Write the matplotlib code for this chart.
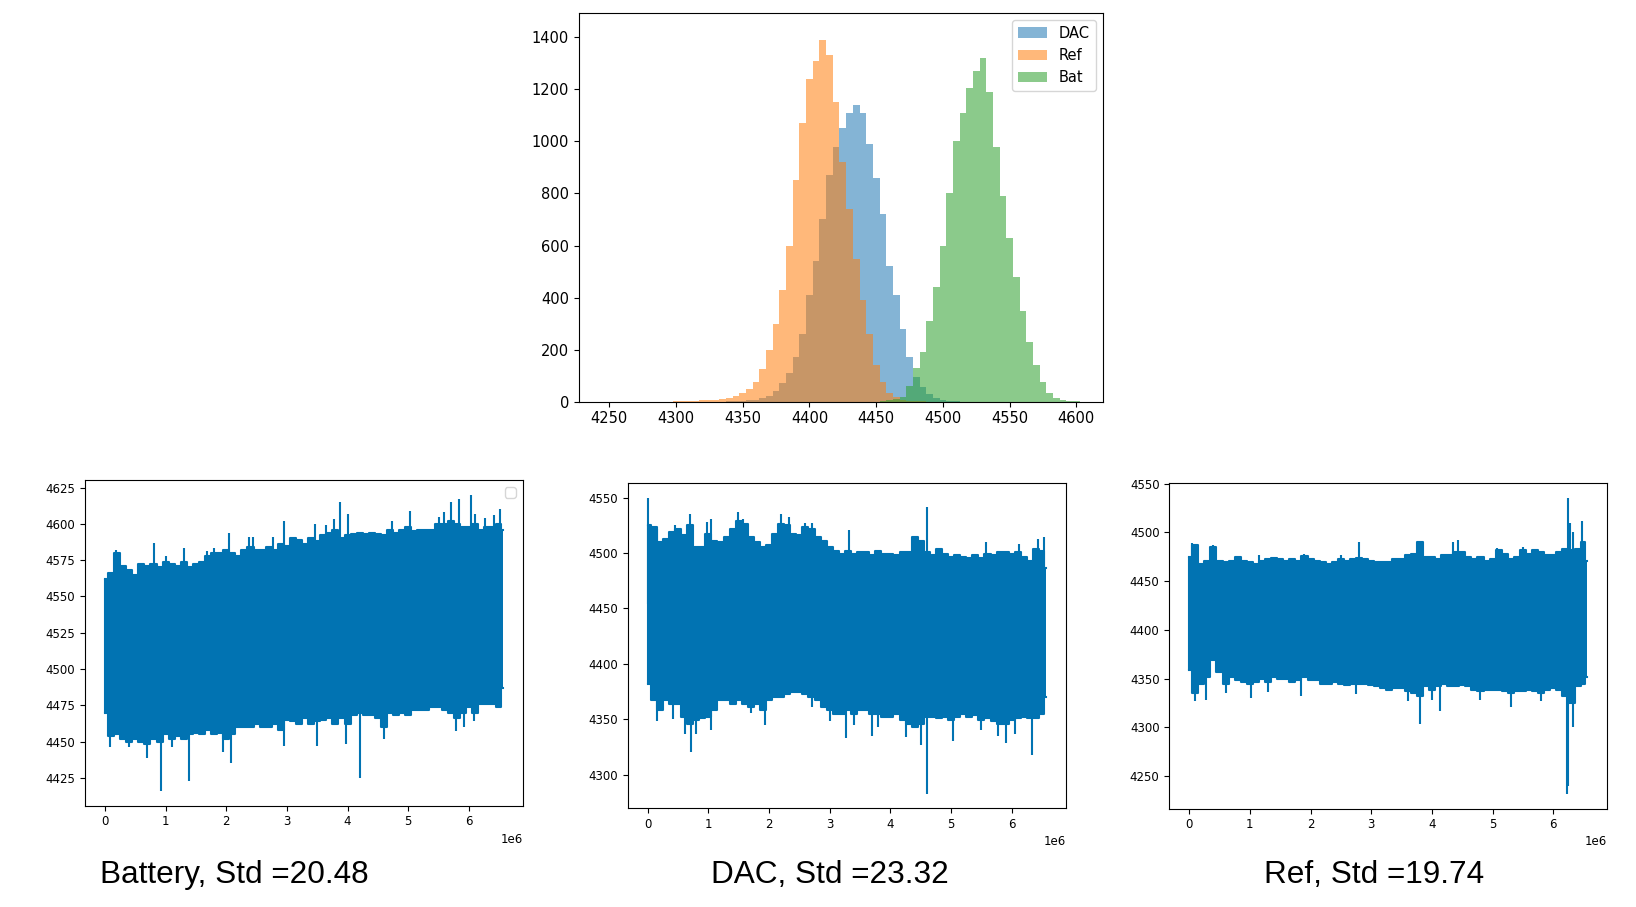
import numpy as np
import matplotlib
matplotlib.use("Agg")
import matplotlib.pyplot as plt

# ---- histogram data (counts per 5-unit bin) ----
dac_first_bin = 4340
dac_counts = [1, 2, 3, 5, 8, 14, 22, 40, 70, 110, 170, 260, 410, 540, 700, 870,
              980, 1050, 1110, 1140, 1110, 990, 860, 720, 520, 410, 280, 170,
              95, 55, 30, 16, 8, 4, 2]
ref_first_bin = 4300
ref_counts = [3, 3, 3, 4, 5, 6, 8, 12, 16, 22, 32, 48, 75, 125, 200, 300, 430,
              600, 850, 1070, 1240, 1310, 1390, 1330, 1150, 920, 740, 550, 390,
              260, 140, 75, 35, 18, 8, 4, 2, 1]
bat_first_bin = 4455
bat_counts = [4, 6, 10, 18, 60, 130, 190, 310, 440, 600, 800, 1000, 1110, 1205,
              1270, 1320, 1190, 980, 790, 630, 480, 350, 230, 140, 75, 35, 15,
              7, 3, 1]
bin_w = 5

# ---- time series: band envelopes sampled every 0.1e6 samples (+ last sample) ----
t_grid = np.append(np.arange(0, 6.55, 0.1), 6.56) * 1e6

bat_upper = [4562, 4566, 4580, 4571, 4568, 4565, 4572, 4571, 4572, 4570,
             4574, 4572, 4571, 4574, 4570, 4572, 4574, 4578, 4580, 4580,
             4582, 4580, 4578, 4582, 4584, 4582, 4582, 4584, 4582, 4586,
             4585, 4590, 4589, 4586, 4590, 4588, 4592, 4594, 4596, 4590,
             4592, 4593, 4594, 4593, 4594, 4593, 4592, 4596, 4594, 4596,
             4598, 4595, 4596, 4596, 4596, 4600, 4600, 4602, 4600, 4598,
             4598, 4600, 4596, 4598, 4598, 4600, 4596]
bat_lower = [4470, 4454, 4455, 4452, 4450, 4452, 4450, 4448, 4452, 4450,
             4455, 4452, 4454, 4452, 4455, 4456, 4455, 4458, 4455, 4456,
             4452, 4455, 4460, 4460, 4460, 4462, 4460, 4460, 4462, 4458,
             4465, 4464, 4462, 4466, 4462, 4464, 4465, 4466, 4462, 4466,
             4462, 4468, 4470, 4468, 4468, 4466, 4460, 4470, 4468, 4470,
             4468, 4472, 4472, 4472, 4474, 4474, 4472, 4470, 4466, 4470,
             4474, 4470, 4476, 4476, 4476, 4474, 4487]
bat_spikes_x = [0.19, 0.81, 1.0, 1.3, 1.68, 1.8, 2.05, 2.37, 2.44, 2.77, 2.96,
                3.47, 3.65, 3.77, 3.87, 4.0, 4.73, 5.03, 5.5, 5.59, 5.7, 5.84,
                6.03, 6.1, 6.27, 6.41, 6.51,
                0.08, 0.4, 0.69, 0.93, 1.1, 1.38, 1.95, 2.07, 2.95, 3.49, 3.98,
                4.2, 4.6, 5.78, 5.92, 6.09]
bat_spikes_y = [4582, 4587, 4578, 4583, 4581, 4583, 4594, 4591, 4591, 4591, 4602,
                4600, 4599, 4603, 4615, 4607, 4602, 4609, 4605, 4608, 4615, 4617,
                4620, 4607, 4604, 4606, 4610,
                4446, 4446, 4439, 4416, 4446, 4423, 4443, 4435, 4447, 4447, 4448,
                4425, 4452, 4457, 4460, 4464]

dac_upper = [4525, 4523, 4510, 4513, 4519, 4522, 4516, 4525, 4505, 4505,
             4517, 4511, 4510, 4514, 4522, 4529, 4526, 4514, 4510, 4505,
             4507, 4517, 4526, 4525, 4517, 4516, 4523, 4522, 4514, 4511,
             4505, 4502, 4499, 4502, 4499, 4501, 4501, 4498, 4502, 4499,
             4499, 4498, 4501, 4501, 4514, 4511, 4501, 4498, 4504, 4499,
             4496, 4498, 4496, 4495, 4498, 4495, 4499, 4498, 4501, 4501,
             4499, 4501, 4496, 4493, 4504, 4502, 4486]
dac_lower = [4382, 4367, 4358, 4367, 4364, 4364, 4352, 4346, 4349, 4351,
             4352, 4358, 4367, 4367, 4364, 4367, 4364, 4361, 4364, 4358,
             4367, 4370, 4370, 4373, 4375, 4375, 4373, 4370, 4367, 4361,
             4358, 4355, 4355, 4358, 4355, 4358, 4358, 4355, 4355, 4352,
             4352, 4355, 4349, 4346, 4343, 4346, 4352, 4352, 4351, 4352,
             4349, 4352, 4355, 4352, 4354, 4349, 4351, 4348, 4346, 4346,
             4349, 4351, 4352, 4351, 4351, 4355, 4370]
dac_spikes_x = [0.0, 0.15, 0.45, 0.7, 0.98, 1.05, 1.49, 1.57, 2.2, 2.33, 2.6,
                2.7, 3.32, 4.6, 5.57, 6.12, 6.43, 6.53,
                0.15, 0.42, 0.62, 0.72, 0.8, 1.05, 1.7, 1.93, 2.7, 3.0, 3.27,
                3.4, 3.7, 3.8, 4.25, 4.5, 4.6, 5.03, 5.5, 5.78, 5.9, 6.05, 6.34]
dac_spikes_y = [4550, 4522, 4525, 4535, 4528, 4531, 4537, 4531, 4535, 4532, 4527,
                4527, 4521, 4541, 4510, 4508, 4513, 4514,
                4348, 4350, 4337, 4320, 4337, 4340, 4356, 4345, 4361, 4348, 4333,
                4345, 4335, 4343, 4334, 4327, 4283, 4330, 4340, 4335, 4329, 4337,
                4318]

ref_upper = [4475, 4487, 4468, 4471, 4485, 4471, 4470, 4471, 4475, 4471,
             4470, 4468, 4471, 4473, 4474, 4473, 4471, 4473, 4471, 4476,
             4473, 4471, 4470, 4468, 4470, 4473, 4471, 4473, 4474, 4473,
             4471, 4470, 4470, 4470, 4473, 4473, 4477, 4478, 4490, 4475,
             4475, 4473, 4477, 4477, 4480, 4480, 4475, 4473, 4475, 4471,
             4473, 4482, 4478, 4473, 4475, 4482, 4478, 4482, 4480, 4477,
             4477, 4480, 4483, 4482, 4483, 4490, 4471]
ref_lower = [4359, 4335, 4345, 4352, 4369, 4357, 4345, 4352, 4349, 4347,
             4345, 4347, 4350, 4347, 4352, 4350, 4350, 4347, 4349, 4352,
             4349, 4349, 4345, 4345, 4347, 4345, 4344, 4345, 4345, 4345,
             4344, 4342, 4340, 4338, 4340, 4340, 4337, 4335, 4332, 4342,
             4338, 4342, 4345, 4342, 4342, 4344, 4342, 4338, 4337, 4338,
             4338, 4338, 4337, 4335, 4337, 4337, 4338, 4337, 4335, 4338,
             4340, 4338, 4332, 4325, 4342, 4345, 4352]
ref_spikes_x = [0.05, 0.4, 1.15, 1.9, 2.5, 2.8, 3.8, 4.34, 4.43, 5.08, 5.5,
                6.25, 6.28, 6.33, 6.48,
                0.1, 0.27, 0.6, 1.02, 1.3, 1.85, 2.75, 3.6, 3.8, 4.0, 4.13, 4.8,
                5.3, 5.8, 6.22, 6.24, 6.32]
ref_spikes_y = [4489, 4487, 4477, 4478, 4477, 4490, 4491, 4490, 4492, 4484, 4485,
                4535, 4510, 4500, 4512,
                4327, 4328, 4335, 4330, 4336, 4332, 4334, 4327, 4304, 4328, 4317,
                4328, 4321, 4327, 4232, 4240, 4300]

captions = ["Battery, Std =20.48", "DAC, Std =23.32", "Ref, Std =19.74"]

line_color = "#0173b2"

fig = plt.figure(figsize=(16.36, 9.07), dpi=100)

# top histogram
ax_h = fig.add_axes([0.3537, 0.5571, 0.3205, 0.4291])
for first, counts, lab, col in [(dac_first_bin, dac_counts, "DAC", "C0"),
                                (ref_first_bin, ref_counts, "Ref", "C1"),
                                (bat_first_bin, bat_counts, "Bat", "C2")]:
    centers = first + bin_w * np.arange(len(counts))
    edges = np.append(centers - bin_w / 2, centers[-1] + bin_w / 2)
    ax_h.hist(centers, bins=edges, weights=counts, alpha=0.55, color=col, label=lab)
ax_h.set_xlim(4227, 4620)
ax_h.set_ylim(0, 1495)
ax_h.tick_params(labelsize=10.5)
ax_h.legend(loc="upper right", fontsize=10.5)


def draw_series(rect, upper, lower, sx, sy, cap, cap_x, empty_legend=False):
    ax = fig.add_axes(rect)
    up = np.array(upper)
    lo = np.array(lower)
    ax.fill_between(t_grid, lo, up, color=line_color, lw=0, step="mid")
    ax.plot(t_grid, up, color=line_color, lw=1.5, drawstyle="steps-mid")
    ax.plot(t_grid, lo, color=line_color, lw=1.5, drawstyle="steps-mid")
    sx = np.array(sx) * 1e6
    base = np.interp(sx, t_grid, (up + lo) / 2)
    ax.vlines(sx, base, sy, color=line_color, lw=1.5)
    ax.vlines(t_grid[0], lo[0], up[0], color=line_color, lw=1.5)
    ax.tick_params(labelsize=8.5)
    ax.xaxis.get_offset_text().set_fontsize(8.5)
    if empty_legend:
        ax.legend(handles=[], loc="upper right")
    fig.text(cap_x, 0.0355, cap, ha="center", va="center",
             fontsize=22.7, family="Liberation Sans")
    return ax


draw_series([0.0520, 0.1117, 0.2675, 0.3591], bat_upper, bat_lower,
            bat_spikes_x, bat_spikes_y, captions[0], 0.143, empty_legend=True)
draw_series([0.3837, 0.1088, 0.2677, 0.3590], dac_upper, dac_lower,
            dac_spikes_x, dac_spikes_y, captions[1], 0.507)
draw_series([0.7147, 0.1085, 0.2677, 0.3585], ref_upper, ref_lower,
            ref_spikes_x, ref_spikes_y, captions[2], 0.8396)

fig.savefig("out.png", dpi=100)
